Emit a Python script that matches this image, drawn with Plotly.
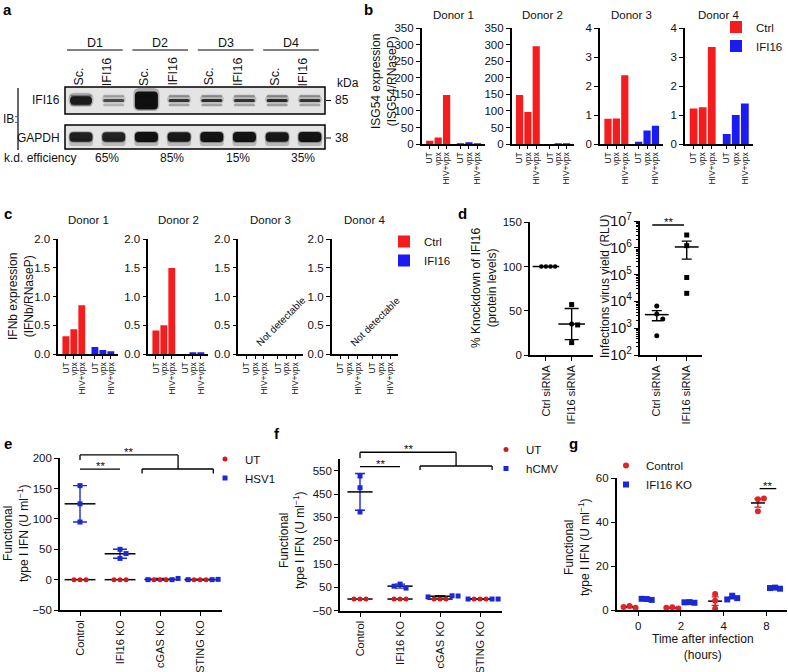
import numpy as np
import plotly.graph_objects as go

# ---------------- data ----------------
blot_donors = ["D1", "D2", "D3", "D4"]
blot_lanes = ["Sc.", "IFI16"]
ifi16_band = [0.90, 0.55, 1.00, 0.70, 0.75, 0.70, 0.80, 0.70]
gapdh_band = [0.88, 0.85, 0.97, 0.92, 0.95, 0.95, 0.92, 0.95]
kd_efficiency = ["65%", "85%", "15%", "35%"]
marker_kda = ["85", "38"]

donors = ["Donor 1", "Donor 2", "Donor 3", "Donor 4"]
conditions = ["UT", "vpx", "HIV+vpx"]
isg54_ctrl = [[10, 20, 148], [148, 97, 296], [0.87, 0.88, 2.38], [1.23, 1.27, 3.35]]
isg54_ifi16 = [[2, 3, 2], [0, 2, 2], [0.08, 0.47, 0.63], [0.35, 1.0, 1.4]]
isg54_max = [350, 350, 4, 4]
ifnb_ctrl = [[0.31, 0.43, 0.85], [0.41, 0.50, 1.50], [], []]
ifnb_ifi16 = [[0.12, 0.07, 0.05], [0.0, 0.03, 0.03], [], []]

sirna_groups = ["Ctrl siRNA", "IFI16 siRNA"]
knockdown_ctrl = [100, 100, 100, 100]
knockdown_ifi16 = [57, 35, 34, 14]
rlu_ctrl = [6.7e3, 3.4e3, 2.2e3, 5.2e2]
rlu_ifi16 = [3.0e6, 1.2e6, 7.8e4, 2.0e4]

ko_groups = ["Control", "IFI16 KO", "cGAS KO", "STING KO"]
hsv1_ut = [[0, 0, 0], [0, 0, 0], [0, 0, 0], [0, 0, 0]]
hsv1_inf = [[155, 125, 95], [50, 43, 35], [0, 0, 2], [0, 0, 0.5]]
hcmv_ut = [[0, 0, 0], [0, 0, 0], [0, 0, 0], [0, 0, 0]]
hcmv_inf = [[527, 477, 373], [64, 47, 55], [14, 9, 13], [0, 0, 0]]

time_labels = ["0", "2", "4", "8"]
g_control = [[1.8, 1.0, 1.4], [1.2, 0.7, 1.0], [7.3, 4.2, 0.6], [50.5, 50.8, 45.0]]
g_ifi16ko = [[5.0, 4.6, 5.1], [3.6, 3.3, 3.5], [6.5, 5.4, 4.8], [10.2, 9.7, 10.0]]

# ---------------- style ----------------
W, H = 788, 672
FONT = "Liberation Sans, Arial, Helvetica, sans-serif"
INK = "#111111"
RED_BAR, BLUE_BAR = "#f41c1c", "#1c1cf2"
RED_PT, BLUE_PT = "#cf1d1d", "#1b28d8"
TICK = 11.5
TITLE = 12


def px(x):
    return x / W


def py(y):
    return 1 - y / H


layout = dict(width=W, height=H, margin=dict(l=0, r=0, t=0, b=0, autoexpand=False), autosize=False,
              paper_bgcolor="white", plot_bgcolor="white", barmode="overlay",
              font=dict(family=FONT, size=11, color=INK), hovermode=False)
shapes, annotations, traces = [], [], []

AX = dict(showline=True, linecolor="black", linewidth=1.6, ticks="outside", ticklen=4,
          tickwidth=1.4, tickcolor="black", showgrid=False, zeroline=False,
          tickfont=dict(size=TICK, color=INK, family=FONT), fixedrange=True)


def make_axes(i, box, xkw, ykw):
    x0, y0, x1, y1 = box
    s = "" if i == 1 else str(i)
    layout["xaxis" + s] = dict(AX, domain=[px(x0), px(x1)], anchor="y" + s, **xkw)
    layout["yaxis" + s] = dict(AX, domain=[py(y1), py(y0)], anchor="x" + s, **ykw)
    return "x" + s, "y" + s


def ptext(x, y, text, size=11, xanchor="center", yanchor="middle", angle=0):
    annotations.append(dict(xref="paper", yref="paper", x=px(x), y=py(y), text=text,
                            showarrow=False, xanchor=xanchor, yanchor=yanchor, textangle=angle,
                            font=dict(size=size, family=FONT, color=INK)))


def pshape(kind, x0, y0, x1, y1, fill=None, lw=0, lc="black"):
    d = dict(type=kind, xref="paper", yref="paper", x0=px(x0), x1=px(x1), y0=py(y1), y1=py(y0),
             line=dict(width=lw, color=lc), layer="above")
    if fill is not None:
        d["fillcolor"] = fill
    shapes.append(d)


def pill(cx, cy, w, h, fill, r=None):
    r = min(h / 2, w / 2) if r is None else min(r, h / 2, w / 2)
    x0, x1, y0, y1 = cx - w / 2, cx + w / 2, cy - h / 2, cy + h / 2
    X = lambda v: f"{px(v):.5f}"
    Y = lambda v: f"{py(v):.5f}"
    path = (f"M {X(x0 + r)},{Y(y0)} L {X(x1 - r)},{Y(y0)} Q {X(x1)},{Y(y0)} {X(x1)},{Y(y0 + r)} "
            f"L {X(x1)},{Y(y1 - r)} Q {X(x1)},{Y(y1)} {X(x1 - r)},{Y(y1)} "
            f"L {X(x0 + r)},{Y(y1)} Q {X(x0)},{Y(y1)} {X(x0)},{Y(y1 - r)} "
            f"L {X(x0)},{Y(y0 + r)} Q {X(x0)},{Y(y0)} {X(x0 + r)},{Y(y0)} Z")
    shapes.append(dict(type="path", xref="paper", yref="paper", path=path, fillcolor=fill,
                       line=dict(width=0), layer="above"))


def pline(x0, y0, x1, y1, w=1.2):
    shapes.append(dict(type="line", xref="paper", yref="paper", x0=px(x0), x1=px(x1),
                       y0=py(y0), y1=py(y1), line=dict(color="black", width=w)))


# ---------------- panel a : immunoblot ----------------
LANE0, LANE_STEP = 81.0, 32.7
lane_x = [LANE0 + LANE_STEP * i for i in range(8)]
BOX_L, BOX_R = 65, 325
IFI_T, IFI_B = 87, 114
GAP_T, GAP_B = 125, 149
pshape("rect", BOX_L, IFI_T, BOX_R, IFI_B, fill="#e4e4e4", lw=1.5)
pshape("rect", BOX_L, GAP_T, BOX_R, GAP_B, fill="#e4e4e4", lw=1.5)
ifi_mid = (IFI_T + IFI_B) / 2
gap_mid = (GAP_T + GAP_B) / 2
for i, v in enumerate(ifi16_band):
    cx = lane_x[i]
    s = max(0.0, v - 0.8) / 0.2
    h = 3 + 15 * s ** 1.5
    w = 21 + 2 * s
    a = min(1.0, 0.3 + 0.68 * v)
    pill(cx, ifi_mid - 4.5, 21, 2.5, f"rgba(30,30,30,{0.45 * v:.2f})")
    pill(cx, ifi_mid + 4.5, 21, 2.5, f"rgba(30,30,30,{0.45 * v:.2f})")
    pill(cx, ifi_mid - 1, w + 3, h + 5, f"rgba(40,40,40,{0.3 * v:.2f})", r=6)
    pill(cx, ifi_mid, w, h, f"rgba(12,12,12,{a:.2f})", r=4)
for i, v in enumerate(gapdh_band):
    cx = lane_x[i]
    h = 6 + 4 * v
    pill(cx, gap_mid + 5, 24, 8, f"rgba(70,70,70,{0.3 * v:.2f})", r=3)
    pill(cx, gap_mid, 25, h + 2, f"rgba(30,30,30,{0.35 * v:.2f})", r=5)
    pill(cx, gap_mid, 23, h, f"rgba(12,12,12,{v:.2f})", r=4)

for k, d in enumerate(blot_donors):
    l0, l1 = lane_x[2 * k] - 14, lane_x[2 * k + 1] + 9
    pline(l0, 50, l1, 50, 1.0)
    ptext((l0 + l1) / 2, 43, d, size=12.5)
    ptext(lane_x[2 * k] - 2, 76.5, blot_lanes[0], size=12.5, angle=-90)
    ptext(lane_x[2 * k + 1] - 7, 71.5, blot_lanes[1], size=12.5, angle=-90)
    ptext(lane_x[2 * k + 1] - 7, 158, kd_efficiency[k], size=12)
ptext(335, 83, "kDa", size=12, xanchor="left")
ptext(62, ifi_mid, "IFI16", size=12, xanchor="right")
ptext(62, gap_mid + 1, "GAPDH", size=12, xanchor="right")
ptext(1, 119, "IB:", size=12, xanchor="left")
pline(18, 88, 18, 150, 1.2)
for yy, lab in zip([ifi_mid, gap_mid + 1], marker_kda):
    pline(326, yy, 331, yy, 1.0)
    ptext(333, yy, lab, size=12, xanchor="left")
ptext(2, 158, "k.d. efficiency", size=12, xanchor="left")

# ---------------- panels b & c : bar charts ----------------
ctrl_pos = [0.0, 1.0, 2.0]
ifi_pos = [3.65, 4.65, 5.65]
BAR_RANGE = [-0.95, 6.55]
BAR_W = 0.86
xbar = dict(range=BAR_RANGE, tickvals=ctrl_pos + ifi_pos, ticktext=conditions * 2,
            tickangle=-90, ticklen=3, tickfont=dict(size=8.5, color=INK, family=FONT))
b_boxes = [(421.7, 28.3, 485.0, 144.0), (511.7, 28.3, 574.0, 144.0),
           (600.0, 28.3, 663.0, 144.0), (685.0, 28.3, 753.0, 144.0)]
c_boxes = [(58.3, 239.3, 118.0, 354.0), (148.3, 239.3, 208.0, 354.0),
           (238.3, 239.3, 303.0, 354.0), (331.7, 239.3, 398.0, 354.0)]

for k in range(4):
    ymax = isg54_max[k]
    xa, ya = make_axes(k + 1, b_boxes[k], xbar,
                       dict(range=[0, ymax], dtick=ymax / (7 if ymax > 10 else 4)))
    traces.append(go.Bar(x=ctrl_pos, y=isg54_ctrl[k], width=BAR_W, name="Ctrl",
                         marker=dict(color=RED_BAR, line=dict(width=0)), legend="legend",
                         showlegend=(k == 0), xaxis=xa, yaxis=ya))
    traces.append(go.Bar(x=ifi_pos, y=isg54_ifi16[k], width=BAR_W, name="IFI16",
                         marker=dict(color=BLUE_BAR, line=dict(width=0)), legend="legend",
                         showlegend=(k == 0), xaxis=xa, yaxis=ya))
    ptext((b_boxes[k][0] + b_boxes[k][2]) / 2, 15, donors[k], size=11.5)

for k in range(4):
    xa, ya = make_axes(k + 5, c_boxes[k], xbar, dict(range=[0, 2], dtick=0.5, tickformat=".1f"))
    traces.append(go.Bar(x=ctrl_pos, y=ifnb_ctrl[k], width=BAR_W, name="Ctrl",
                         marker=dict(color=RED_BAR, line=dict(width=0)), legend="legend2",
                         showlegend=(k == 0), xaxis=xa, yaxis=ya))
    traces.append(go.Bar(x=ifi_pos, y=ifnb_ifi16[k], width=BAR_W, name="IFI16",
                         marker=dict(color=BLUE_BAR, line=dict(width=0)), legend="legend2",
                         showlegend=(k == 0), xaxis=xa, yaxis=ya))
    if not ifnb_ctrl[k]:
        bx0, by0, bx1, by1 = c_boxes[k]
        ptext(bx0 + 0.66 * (bx1 - bx0), by1 - 0.28 * (by1 - by0), "Not detectable",
              size=10, angle=-45)
    ptext((c_boxes[k][0] + c_boxes[k][2]) / 2, 220, donors[k], size=11.5)

ptext(384, 82, "ISG54 expression<br>(ISG54/RNaseP)", size=TITLE, angle=-90)
ptext(21, 297, "IFNb expression<br>(IFNb/RNaseP)", size=TITLE, angle=-90)


# ---------------- helpers for dot plots ----------------
def swarm(vals, ypx, xpx, step):
    placed, offs = [], []
    order = [0] + [s * j for j in range(1, 30) for s in (1, -1)]
    for v in vals:
        y = v * ypx
        for m in order:
            x = m * step
            if all((x - a) ** 2 + (y - b) ** 2 >= (step * 0.95) ** 2 for a, b in placed):
                break
        placed.append((x, y))
        offs.append(x / xpx)
    return offs


def seg(xa, ya, rx, ry, x0, y0, x1, y1, ylog=False, w=1.3):
    fy = (lambda v: (np.log10(v) - ry[0]) / (ry[1] - ry[0])) if ylog else \
        (lambda v: (v - ry[0]) / (ry[1] - ry[0]))
    fx = lambda v: (v - rx[0]) / (rx[1] - rx[0])
    shapes.append(dict(type="line", xref=f"{xa} domain", yref=f"{ya} domain",
                       x0=fx(x0), x1=fx(x1), y0=fy(y0), y1=fy(y1),
                       line=dict(color="black", width=w)))


def stars(xa, ya, rx, ry, x, y, ylog=False):
    fy = (np.log10(y) - ry[0]) / (ry[1] - ry[0]) if ylog else (y - ry[0]) / (ry[1] - ry[0])
    annotations.append(dict(xref=f"{xa} domain", yref=f"{ya} domain",
                            x=(x - rx[0]) / (rx[1] - rx[0]), y=fy, text="**", showarrow=False,
                            xanchor="center", yanchor="bottom", yshift=-5,
                            font=dict(size=11.5, family=FONT, color=INK)))


def mean_trace(xa, ya, xs, groups, color, size, cap, stat="sd"):
    lin = [np.asarray(g, float) for g in groups]
    m = [float(np.mean(a)) for a in lin]
    errs = [float(np.std(a, ddof=1) / (np.sqrt(len(a)) if stat == "sem" else 1)) for a in lin]
    ey = dict(type="data", array=errs, color=color, thickness=1.4, width=cap,
              visible=bool(max(errs) > 0))
    traces.append(go.Scatter(x=xs, y=m, mode="markers", showlegend=False, hoverinfo="skip",
                             marker=dict(symbol="line-ew", size=size, color="black",
                                         line=dict(color="black", width=1.5)),
                             error_y=ey, xaxis=xa, yaxis=ya, cliponaxis=False))


# ---------------- panel d ----------------
D1_RX, D1_RY = [-0.62, 1.83], [0, 150]
xa, ya = make_axes(9, (530, 222.3, 593, 355),
                   dict(range=D1_RX, tickvals=[0, 1], ticktext=sirna_groups, tickangle=-90,
                        tickfont=dict(size=11, color=INK, family=FONT)),
                   dict(range=D1_RY, dtick=50))
mean_trace(xa, ya, [0, 1], [knockdown_ctrl, knockdown_ifi16], "black", 19, 7, "sd")
off_c = swarm(knockdown_ctrl, 0.885, 25.7, 4.6)
off_i = swarm(knockdown_ifi16, 0.885, 25.7, 6)
traces.append(go.Scatter(x=[0 + o for o in off_c], y=knockdown_ctrl, mode="markers",
                         marker=dict(symbol="circle", size=4.5, color="black"), showlegend=False,
                         xaxis=xa, yaxis=ya, cliponaxis=False))
traces.append(go.Scatter(x=[1 + o for o in off_i], y=knockdown_ifi16, mode="markers",
                         marker=dict(symbol=["square", "circle", "square", "square"], size=5,
                                     color="black"), showlegend=False,
                         xaxis=xa, yaxis=ya, cliponaxis=False))
ptext(484, 288, "% Knockdown of IFI16<br>(protein levels)", size=TITLE, angle=-90)

D2_RX, D2_RY = [-0.56, 1.5], [2, 7]
xa, ya = make_axes(10, (640, 221, 701.7, 355),
                   dict(range=D2_RX, tickvals=[0, 1], ticktext=sirna_groups, tickangle=-90,
                        tickfont=dict(size=11, color=INK, family=FONT)),
                   dict(type="log", range=D2_RY, dtick=1, exponentformat="power", showexponent="all",
                        minor=dict(ticks="outside", ticklen=2.5, tickcolor="black", tickwidth=1)))
mean_trace(xa, ya, [0, 1], [rlu_ctrl, rlu_ifi16], "black", 17, 5, "sem")
off_c = swarm(list(np.log10(rlu_ctrl)), 26.8, 30, 6)
off_i = swarm(list(np.log10(rlu_ifi16)), 26.8, 30, 6)
traces.append(go.Scatter(x=[0 + o for o in off_c], y=rlu_ctrl, mode="markers",
                         marker=dict(symbol="circle", size=5, color="black"), showlegend=False,
                         xaxis=xa, yaxis=ya, cliponaxis=False))
traces.append(go.Scatter(x=[1 + o for o in off_i], y=rlu_ifi16, mode="markers",
                         marker=dict(symbol="square", size=5, color="black"), showlegend=False,
                         xaxis=xa, yaxis=ya, cliponaxis=False))
seg(xa, ya, D2_RX, D2_RY, -0.15, 10 ** 6.85, 0.91, 10 ** 6.85, ylog=True)
stars(xa, ya, D2_RX, D2_RY, 0.38, 10 ** 6.85, ylog=True)
ptext(605, 287, "Infections virus yield (RLU)", size=TITLE, angle=-90)


# ---------------- panels e & f ----------------
def ko_panel(idx, box, ry, ydtick, ytick0, ut, inf, inf_name, legend_id, ypx, mean_size, cap):
    rx = [-0.5, 3.54]
    xa, ya = make_axes(idx, box,
                       dict(range=rx, tickvals=[0, 1, 2, 3], ticktext=ko_groups, tickangle=-90,
                            tickfont=dict(size=11, color=INK, family=FONT)),
                       dict(range=ry, dtick=ydtick, tick0=ytick0))
    cats = [0, 1, 2, 3]
    mean_trace(xa, ya, cats, ut, RED_PT, mean_size, cap, "sd")
    mean_trace(xa, ya, cats, inf, BLUE_PT, mean_size, cap, "sd")
    ux, uy, ix, iy = [], [], [], []
    for c in cats:
        offs = swarm(list(ut[c]) + list(inf[c]), ypx, 40, 6)
        n = len(ut[c])
        ux += [c + o for o in offs[:n]]
        uy += list(ut[c])
        ix += [c + o for o in offs[n:]]
        iy += list(inf[c])
    traces.append(go.Scatter(x=ux, y=uy, mode="markers", name="UT", legend=legend_id,
                             marker=dict(symbol="circle", size=5, color=RED_PT),
                             xaxis=xa, yaxis=ya, cliponaxis=False))
    traces.append(go.Scatter(x=ix, y=iy, mode="markers", name=inf_name, legend=legend_id,
                             marker=dict(symbol="square", size=5, color=BLUE_PT),
                             xaxis=xa, yaxis=ya, cliponaxis=False))
    return xa, ya, rx


E_RY = [-50, 200]
xa, ya, rx = ko_panel(11, (60, 458.3, 221.7, 610), E_RY, 50, 0, hsv1_ut, hsv1_inf, "HSV1",
                      "legend3", 151.7 / 250, 22, 7)
seg(xa, ya, rx, E_RY, 0, 182, 1, 182)
stars(xa, ya, rx, E_RY, 0.5, 182)
seg(xa, ya, rx, E_RY, 0, 205.5, 2.45, 205.5)
seg(xa, ya, rx, E_RY, 0, 205.5, 0, 197)
seg(xa, ya, rx, E_RY, 2.45, 182.4, 2.45, 205.5)
seg(xa, ya, rx, E_RY, 1.55, 182.4, 3.33, 182.4)
seg(xa, ya, rx, E_RY, 1.55, 182.4, 1.55, 175)
seg(xa, ya, rx, E_RY, 3.33, 182.4, 3.33, 175)
stars(xa, ya, rx, E_RY, 1.22, 205.5)
ptext(16, 533, "Functional<br>type I IFN (U ml<sup>−1</sup>)", size=TITLE, angle=-90)

F_RY = [-50, 600]
xa, ya, rx = ko_panel(12, (340, 459, 501.7, 610.7), F_RY, 100, -50, hcmv_ut, hcmv_inf, "hCMV",
                      "legend4", 151.7 / 650, 18, 5)
seg(xa, ya, rx, F_RY, 0, 567, 1, 567)
stars(xa, ya, rx, F_RY, 0.5, 567)
seg(xa, ya, rx, F_RY, 0, 629, 2.4, 629)
seg(xa, ya, rx, F_RY, 0, 629, 0, 604)
seg(xa, ya, rx, F_RY, 2.4, 570, 2.4, 629)
seg(xa, ya, rx, F_RY, 1.5, 570, 3.3, 570)
seg(xa, ya, rx, F_RY, 1.5, 570, 1.5, 553)
seg(xa, ya, rx, F_RY, 3.3, 570, 3.3, 553)
stars(xa, ya, rx, F_RY, 1.2, 629)
ptext(292, 540, "Functional<br>type I IFN (U ml<sup>−1</sup>)", size=TITLE, angle=-90)

# ---------------- panel g ----------------
G_RX, G_RY = [-0.5, 3.48], [0, 60]
DODGE = 0.2
xa, ya = make_axes(13, (616.7, 478.3, 787, 610),
                   dict(range=G_RX, tickvals=[0, 1, 2, 3], ticktext=time_labels),
                   dict(range=G_RY, dtick=20))
cats = [0, 1, 2, 3]
mean_trace(xa, ya, [c - DODGE for c in cats], g_control, RED_PT, 10, 3.5, "sem")
mean_trace(xa, ya, [c + DODGE for c in cats], g_ifi16ko, BLUE_PT, 10, 3.5, "sem")
cx, cy, kx, ky = [], [], [], []
for c in cats:
    oc = swarm(g_control[c], 2.195, 42.8, 6)
    ok = swarm(g_ifi16ko[c], 2.195, 42.8, 5)
    cx += [c - DODGE + o for o in oc]
    cy += g_control[c]
    kx += [c + DODGE + o for o in ok]
    ky += g_ifi16ko[c]
traces.append(go.Scatter(x=cx, y=cy, mode="markers", name="Control", legend="legend5",
                         marker=dict(symbol="circle", size=6, color="#e32424"),
                         xaxis=xa, yaxis=ya, cliponaxis=False))
traces.append(go.Scatter(x=kx, y=ky, mode="markers", name="IFI16 KO", legend="legend5",
                         marker=dict(symbol="square", size=6, color=BLUE_PT),
                         xaxis=xa, yaxis=ya, cliponaxis=False))
seg(xa, ya, G_RX, G_RY, 2.84, 55.3, 3.23, 55.3)
stars(xa, ya, G_RX, G_RY, 3.03, 55.3)
ptext(577, 547, "Functional<br>type I IFN (U ml<sup>−1</sup>)", size=TITLE, angle=-90)
ptext(703, 647, "Time after infection<br>(hours)", size=TITLE)

# ---------------- legends ----------------
LEG = dict(bgcolor="rgba(0,0,0,0)", borderwidth=0, xanchor="left", yanchor="top",
           font=dict(size=11.5, family=FONT, color=INK), itemclick=False, itemdoubleclick=False,
           tracegroupgap=0)
layout["legend"] = dict(LEG, x=px(716), y=py(12.5))
layout["legend2"] = dict(LEG, x=px(384), y=py(227))
layout["legend3"] = dict(LEG, x=px(205), y=py(444.5))
layout["legend4"] = dict(LEG, x=px(486), y=py(435))
layout["legend5"] = dict(LEG, x=px(606), y=py(451))

# ---------------- panel letters ----------------
for lab, x, y in [("a", 8, 10), ("b", 368, 10), ("c", 8, 213), ("d", 462, 213),
                  ("e", 8, 443), ("f", 277, 433), ("g", 573, 443)]:
    annotations.append(dict(xref="paper", yref="paper", x=px(x), y=py(y), text=f"<b>{lab}</b>",
                            showarrow=False, xanchor="center", yanchor="middle",
                            font=dict(size=15, family=FONT, color="black")))

layout["shapes"] = shapes
layout["annotations"] = annotations
fig = go.Figure(data=traces, layout=layout)
fig.write_html("out.html", config={"displayModeBar": False},
               post_script="document.body.style.margin='0px';document.body.style.overflow='hidden';")
